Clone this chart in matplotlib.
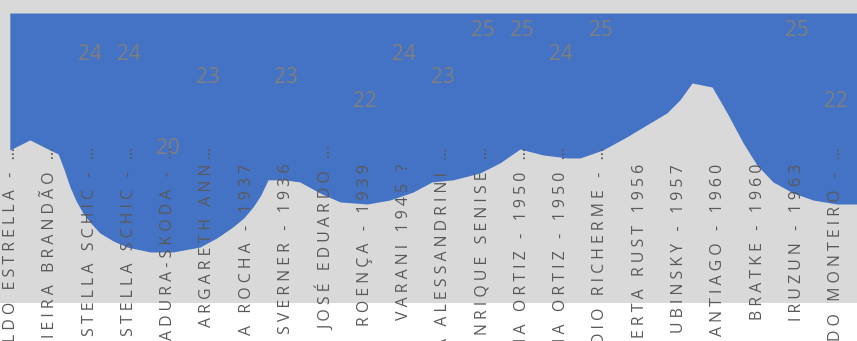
import matplotlib
matplotlib.use("Agg")
import matplotlib.pyplot as plt
from matplotlib.patches import Rectangle
import numpy as np

# ---------------- data ----------------
categories = [
    "LDO ESTRELLA - …",
    "IEIRA BRANDÃO …",
    "STELLA SCHIC - …",
    "STELLA SCHIC - …",
    "ADURA-SKODA - …",
    "ARGARETH ANN…",
    "A ROCHA - 1937",
    "SVERNER - 1936",
    "JOSÉ EDUARDO …",
    "ROENÇA - 1939",
    "VARANI 1945 ?",
    "A ALESSANDRINI …",
    "NRIQUE SENISE …",
    "IA ORTIZ - 1950 …",
    "IA ORTIZ - 1950 …",
    "DIO RICHERME - …",
    "ERTA RUST 1956",
    "UBINSKY - 1957",
    "ANTIAGO - 1960",
    "BRATKE - 1960",
    "IRUZUN - 1963",
    "DO MONTEIRO - …",
]

# data labels visible in the chart (None = not visible)
label_values = [None, None, 24, 24, 20, 23, None, 23, None, 22, 24, 23,
                25, 25, 24, 25, None, None, None, None, 25, 22]

# boundary of the blue area (x in category units, y in value units)
area_x = [-0.03, 0.48, 0.99, 1.20, 1.35, 1.50, 1.66, 1.83, 2.04, 2.26, 2.60,
          2.95, 3.54, 4.12, 4.81, 5.24, 5.65, 5.93, 6.16, 6.36, 6.54, 6.97,
          7.35, 7.86, 8.37, 9.06, 9.64, 10.23, 10.71, 11.25, 11.93, 12.44,
          12.95, 13.54, 14.15, 14.48, 15.06, 15.67, 16.18, 16.69, 17.02, 17.33,
          17.84, 18.22, 18.63, 18.98, 19.39, 19.90, 20.41, 21.02, 21.53]
area_y = [20.53, 20.96, 20.53, 20.36, 19.70, 18.96, 18.35, 17.85, 17.40, 17.00,
          16.66, 16.40, 16.19, 16.19, 16.40, 16.79, 17.26, 17.65, 18.11, 18.62,
          19.26, 19.26, 19.17, 18.70, 18.32, 18.23, 18.40, 18.74, 19.17, 19.26,
          19.55, 19.98, 20.57, 20.32, 20.19, 20.19, 20.53, 21.09, 21.60, 22.11,
          22.66, 23.38, 23.21, 22.11, 20.83, 19.89, 19.17, 18.70, 18.40, 18.23,
          18.23]

# ---------------- layout ----------------
W, H = 857, 341
DPI = 100
BLUE = "#4472C4"
GREY = "#D9D9D9"
LABEL_C = "#7F7F7F"
TICK_C = "#595959"

fig = plt.figure(figsize=(W / DPI, H / DPI), dpi=DPI)
fig.patch.set_facecolor("white")
fig.patches.append(Rectangle((0, (H - 303) / H), 1, 303 / H, transform=fig.transFigure,
                             facecolor=GREY, edgecolor="none", zorder=-10))

ax_left, ax_top, ax_bottom = 10, 13, 341
ax = fig.add_axes([ax_left / W, 0, 1 - ax_left / W, (H - ax_top) / H])
ax.set_zorder(1)
ax.set_facecolor("none")
for s in ax.spines.values():
    s.set_visible(False)
ax.set_xticks([])
ax.set_yticks([])

Y_LO, Y_HI = 12.40, 26.36
ax.set_xlim(-0.0254, 21.527)
ax.set_ylim(Y_LO, Y_HI)

ax.fill_between(area_x, area_y, Y_HI, color=BLUE, linewidth=0, zorder=1)

# data labels
for i, v in enumerate(label_values):
    if v is None:
        continue
    ax.annotate(str(v), (i, v), xytext=(0, 10.1), textcoords="offset points",
                ha="center", va="center", fontsize=15, color=LABEL_C,
                family=["Open Sans", "DejaVu Sans"], zorder=3)

# category labels (rotated, letter-spaced)
def spaced(s):
    return " ".join(list(s))

xform = ax.get_xaxis_transform()
for i, name in enumerate(categories):
    top_px = 147 if name.endswith("…") else 164
    yfrac = (ax_bottom - top_px) / (ax_bottom - ax_top)
    ax.text(i, yfrac, spaced(name), rotation=90, ha="center", va="top",
            fontsize=11.4, color=TICK_C, family=["Open Sans", "DejaVu Sans"],
            transform=xform, zorder=4, clip_on=False)

fig.savefig("out.png", dpi=DPI)
